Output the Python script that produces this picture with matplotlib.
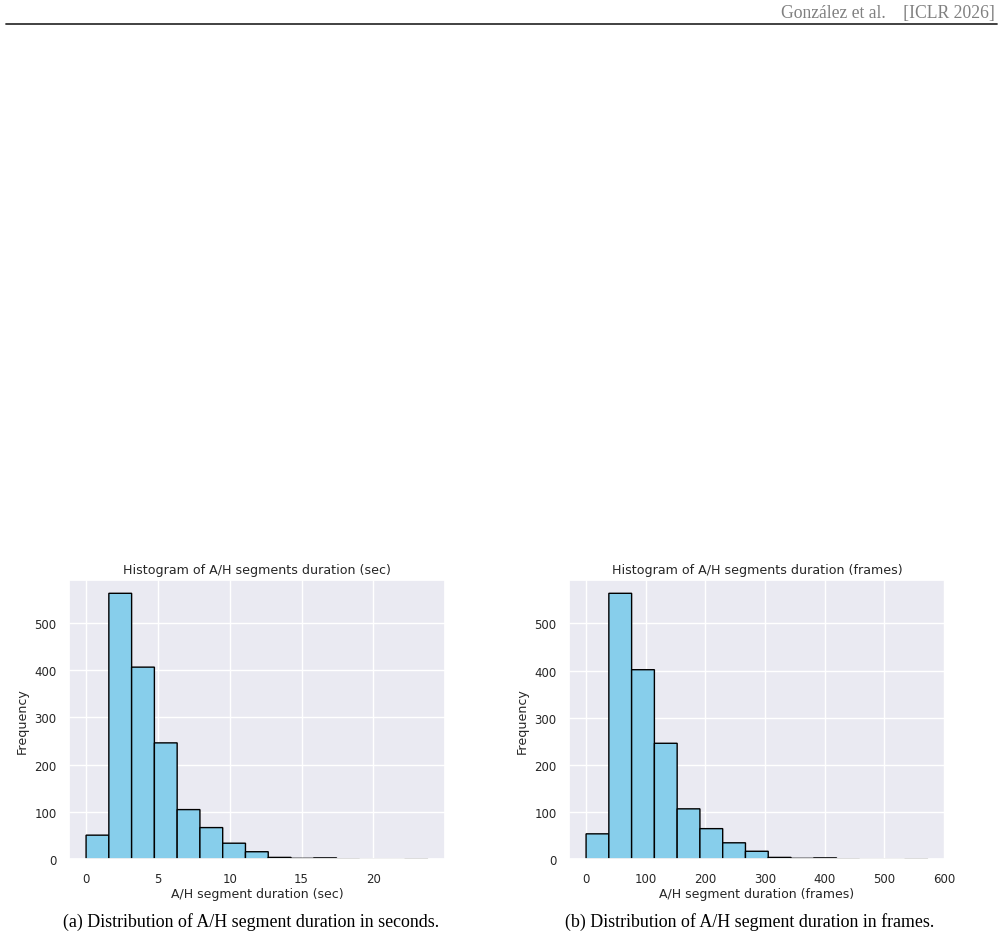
import numpy as np
import matplotlib
matplotlib.use("Agg")
import matplotlib.pyplot as plt
import seaborn as sns
from matplotlib.lines import Line2D

# ---- data ----
counts_sec = [51, 562, 406, 246, 105, 67, 34, 16, 4, 2, 3, 1, 0, 0, 1]
range_sec = (0.0, 23.77)
counts_frames = [54, 564, 402, 246, 107, 65, 35, 17, 4, 2, 3, 1, 0, 0, 1]
range_frames = (0.0, 572.4)
titles = ["Histogram of A/H segments duration (sec)",
          "Histogram of A/H segments duration (frames)"]
xlabels = ["A/H segment duration (sec)", "A/H segment duration (frames)"]
captions = ["(a) Distribution of A/H segment duration in seconds.",
            "(b) Distribution of A/H segment duration in frames."]
header = "González et al.    [ICLR 2026]"

sns.set_theme(style="darkgrid")
plt.rcParams['font.family'] = ['DejaVu Sans']

fig = plt.figure(figsize=(10.03, 9.37), dpi=100)
W, H = 1003, 937

def fx(px):
    return px / W

def fy(py):
    return 1 - py / H

ax_w = (444.7 - 69) / W
ax_h = (860.3 - 581) / H
lefts = [69, 569]
datasets = [(counts_sec, range_sec), (counts_frames, range_frames)]

for i, (counts, rng) in enumerate(datasets):
    ax = fig.add_axes([fx(lefts[i]), fy(860.3), ax_w, ax_h])
    edges = np.linspace(rng[0], rng[1], len(counts) + 1)
    _, _, patches = ax.hist(edges[:-1], bins=edges, weights=counts, color="skyblue",
                            edgecolor="black", linewidth=1.0)
    for p in patches:
        p.set_snap(False)
    ax.set_title(titles[i], fontsize=9.1, color="0.15", pad=5)
    ax.set_xlabel(xlabels[i], fontsize=9.0, color="0.15", labelpad=1.5)
    ax.set_ylabel("Frequency", fontsize=9.1, color="0.15")
    ax.tick_params(labelsize=8.5, colors="0.15", pad=3)
    ax.set_yticks([0, 100, 200, 300, 400, 500])
    ax.set_axisbelow(True)

caption_x = [251, 750]
for i in range(2):
    fig.text(fx(caption_x[i]), fy(922), captions[i], ha="center", va="center",
             family=["Liberation Serif", "DejaVu Serif"], fontsize=12.9, color="black")

fig.text(fx(995), fy(18), header, ha="right", va="baseline",
         family=["Liberation Serif", "DejaVu Serif"], fontsize=12.7, color="#808080")
fig.add_artist(Line2D([fx(6), fx(997)], [fy(24.5), fy(24.5)], color="#333333",
                      linewidth=1.3, transform=fig.transFigure))

fig.savefig("out.png", dpi=100)
